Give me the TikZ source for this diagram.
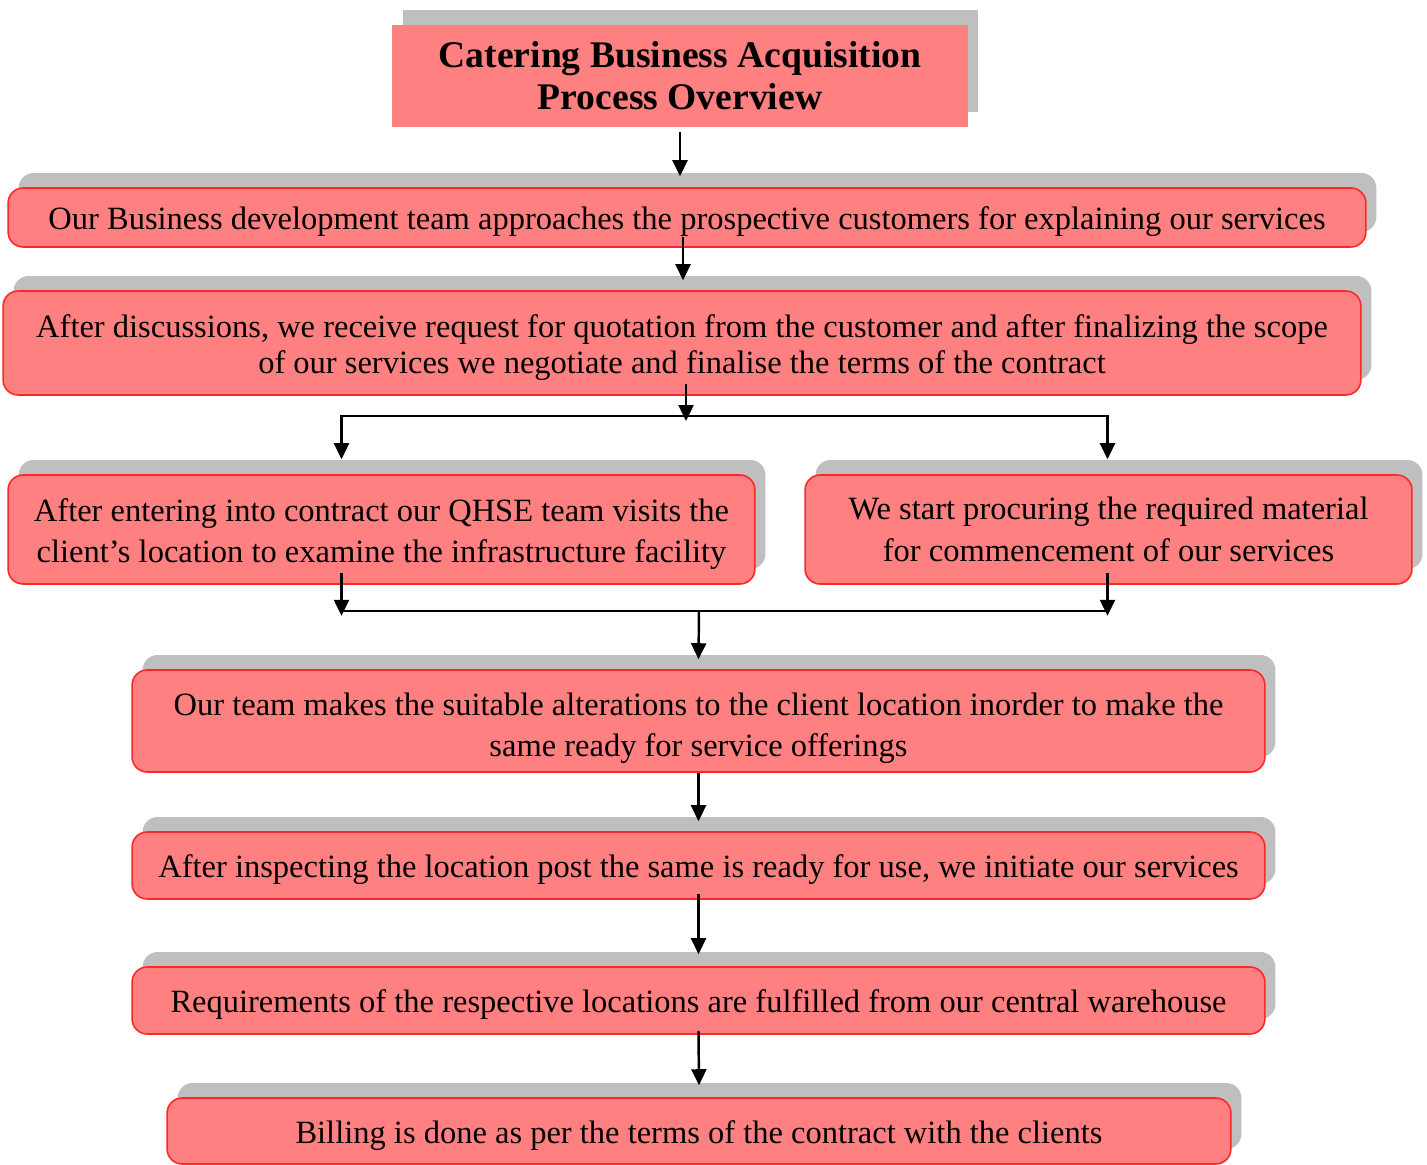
\documentclass[tikz,border=0pt]{standalone}
\usepackage{fontspec}
\setmainfont{Liberation Serif}
\usetikzlibrary{arrows.meta,shadows,calc}
\definecolor{boxpink}{RGB}{255,128,128}
\definecolor{boxred}{RGB}{255,40,40}
\definecolor{shadowgray}{RGB}{191,191,191}
\newcommand\tfixstrut{\rule{0pt}{17.8pt}}
\begin{document}
\begin{tikzpicture}[x=0.02cm,y=-0.02cm,
  grayshadow/.style={copy shadow={shadow xshift=0.21cm, shadow yshift=0.3cm, fill=shadowgray, draw=none}},
  stepbox/.style={grayshadow, fill=boxpink, draw=boxred, line width=0.9pt, rounded corners=0.3cm,
    inner sep=0pt, align=center, font=\fontsize{18.5}{23.5}\selectfont,
    execute at begin node=\tfixstrut},
  titlebox/.style={grayshadow, fill=boxpink, draw=none, inner sep=0pt, align=center,
    font=\fontsize{21.4}{23.8}\bfseries\selectfont},
  flow/.style={line width=1.4pt, -{Triangle[length=0.32cm,width=0.3cm]}},
  link/.style={line width=1.4pt}]
\useasboundingbox (0,0) rectangle (1427,1165);

\node[titlebox, minimum width=11.52cm, minimum height=2.04cm] (title) at (680,76)
  {Catering Business Acquisition\\Process Overview};
\node[stepbox, minimum width=27.16cm, minimum height=1.18cm] (b1) at (687,217.5)
  {Our Business development team approaches the prospective customers for explaining our services};
\node[stepbox, minimum width=27.16cm, minimum height=2.08cm, font=\fontsize{18.5}{20.5}\selectfont] (b2) at (682,343)
  {\rule{0pt}{17.8pt}After discussions, we receive request for quotation from the customer and after finalizing the scope\\of our services we negotiate and finalise the terms of the contract};
\node[stepbox, minimum width=14.94cm, minimum height=2.18cm] (b3l) at (381.5,529.5)
  {\rule{0pt}{18.2pt}After entering into contract our QHSE team visits the\\client’s location to examine the infrastructure facility};
\node[stepbox, minimum width=12.14cm, minimum height=2.18cm] (b3r) at (1108.5,529.5)
  {We start procuring the required material\\for commencement of our services};
\node[stepbox, minimum width=22.66cm, minimum height=2.04cm, font=\fontsize{18.5}{23.8}\selectfont] (b4) at (698.5,721)
  {\rule{0pt}{21pt}Our team makes the suitable alterations to the client location inorder to make the\\same ready for service offerings};
\node[stepbox, minimum width=22.66cm, minimum height=1.34cm] (b5) at (698.5,865.5)
  {After inspecting the location post the same is ready for use, we initiate our services};
\node[stepbox, minimum width=22.66cm, minimum height=1.34cm] (b6) at (698.5,1000.5)
  {Requirements of the respective locations are fulfilled from our central warehouse};
\node[stepbox, minimum width=21.28cm, minimum height=1.32cm] (b7) at (699,1131)
  {Billing is done as per the terms of the contract with the clients};

\coordinate (split) at (686,416);
\coordinate (join) at (699,610);

\draw[flow] ($(title.south)+(0,5)$) -- ($(title.south |- b1.north)+(0,-11)$);
\draw[flow] ($(b1.south)+(-4,-11)$) -- ($(b2.north)+(1,-10)$);
\draw[flow] ($(b2.south)+(4,-12)$) -- ($(split)+(0,5)$);
\draw[flow] (split) -| ($(b3l.north)+(-40,-15)$);
\draw[flow] (split) -| ($(b3r.north)+(-1,-15)$);
\draw[flow] ($(b3l.south)+(-40,-12)$) -- ($(b3l.south)+(-40,31)$);
\draw[flow] ($(b3r.south)+(-1,-12)$) -- ($(b3r.south)+(-1,31)$);
\draw[link] ($(b3l.south)+(-40,26)$) -- ($(b3r.south)+(-1,26)$);
\draw[flow] (join) -- ($(b4.north)+(0,-10)$);
\draw[flow] (b4.south) -- ($(b5.north)+(0,-10)$);
\draw[flow] ($(b5.south)+(0,-6)$) -- ($(b6.north)+(0,-12)$);
\draw[flow] ($(b6.south)+(0,-4)$) -- ($(b7.north)+(0,-12)$);
\end{tikzpicture}
\end{document}
